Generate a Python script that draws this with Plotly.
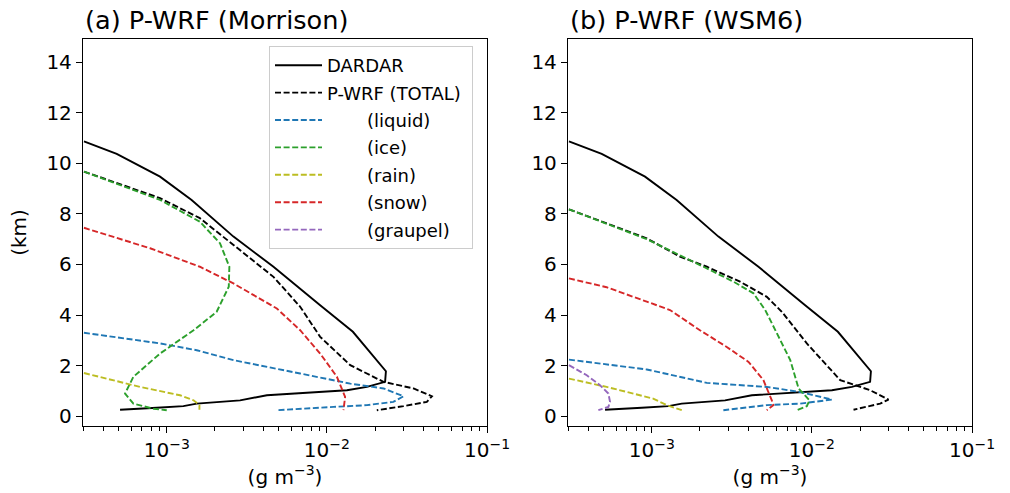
import plotly.graph_objects as go

# ---------------- data (g m^-3 vs km) ----------------
dardar_x = [3.04e-4, 4.87e-4, 9.08e-4, 1.43e-3, 2.61e-3, 4.64e-3, 9.08e-3, 1.454e-2, 2.337e-2, 2.31e-2,
            1.778e-2, 1.334e-2, 4.22e-3, 2.87e-3, 1.54e-3, 1.27e-3, 8.66e-4, 5.11e-4]
dardar_y = [10.86, 10.37, 9.47, 8.55, 7.10, 5.91, 4.39, 3.34, 1.78, 1.36,
            1.16, 1.03, 0.83, 0.63, 0.50, 0.40, 0.34, 0.26]

# (a) Morrison
mor_total_x = [3.04e-4, 9.08e-4, 1.61e-3, 2.61e-3, 4.64e-3, 6.81e-3, 9.08e-3, 1.399e-2, 2.258e-2, 3.48e-2, 4.53e-2, 4.21e-2, 3.01e-2, 2.05e-2]
mor_total_y = [9.67, 8.62, 7.83, 6.77, 5.51, 4.33, 3.14, 2.02, 1.36, 1.10, 0.79, 0.57, 0.40, 0.24]
mor_liquid_x = [3.04e-4, 9.08e-4, 1.54e-3, 2.61e-3, 6.81e-3, 1.40e-2, 2.26e-2, 3.01e-2, 2.60e-2, 1.78e-2, 1.101e-2, 4.87e-3]
mor_liquid_y = [3.30, 2.88, 2.61, 2.22, 1.69, 1.29, 1.10, 0.79, 0.57, 0.44, 0.37, 0.24]
mor_ice_x = [3.04e-4, 9.08e-4, 1.61e-3, 2.15e-3, 2.46e-3, 2.44e-3, 2.05e-3, 1.47e-3, 9.08e-4, 6.19e-4, 5.49e-4, 6.19e-4, 8.25e-4, 1.0e-3]
mor_ice_y = [9.67, 8.55, 7.69, 6.84, 5.91, 5.12, 4.13, 3.40, 2.48, 1.56, 0.90, 0.50, 0.30, 0.24]
mor_rain_x = [3.04e-4, 6.81e-4, 1.21e-3, 1.47e-3, 1.60e-3, 1.60e-3]
mor_rain_y = [1.71, 1.16, 0.83, 0.63, 0.44, 0.26]
mor_snow_x = [3.04e-4, 7.87e-4, 1.61e-3, 2.61e-3, 4.87e-3, 6.81e-3, 9.08e-3, 1.155e-2, 1.30e-2, 1.27e-2]
mor_snow_y = [7.45, 6.64, 5.91, 5.25, 4.26, 3.40, 2.48, 1.56, 0.77, 0.24]

# (b) WSM6
wsm_total_x = [3.04e-4, 9.31e-4, 1.50e-3, 2.21e-3, 3.56e-3, 5.23e-3, 6.49e-3, 9.3e-3, 1.503e-2, 2.31e-2, 3.01e-2, 2.67e-2, 1.82e-2]
wsm_total_y = [8.18, 7.03, 6.31, 5.91, 5.32, 4.72, 4.13, 2.88, 1.43, 1.03, 0.66, 0.50, 0.26]
wsm_liquid_x = [3.04e-4, 9.31e-4, 2.21e-3, 5.23e-3, 8.45e-3, 1.334e-2, 8.45e-3, 5.23e-3, 2.8e-3]
wsm_liquid_y = [2.24, 1.85, 1.32, 1.16, 0.96, 0.66, 0.50, 0.44, 0.24]
wsm_ice_x = [3.04e-4, 9.31e-4, 2.15e-3, 3.24e-3, 4.32e-3, 5.11e-3, 5.5e-3, 7.33e-3, 8.26e-3, 9.66e-3, 9.3e-3, 8.06e-3]
wsm_ice_y = [8.18, 7.00, 5.88, 5.32, 4.86, 4.20, 3.80, 2.22, 1.10, 0.63, 0.40, 0.24]
wsm_rain_x = [3.04e-4, 5.23e-4, 1.02e-3, 1.24e-3, 1.54e-3]
wsm_rain_y = [1.49, 1.16, 0.70, 0.44, 0.24]
wsm_snow_x = [3.04e-4, 5.23e-4, 9.31e-4, 1.30e-3, 2.0e-3, 2.94e-3, 4.02e-3, 4.98e-3, 5.62e-3, 5.75e-3, 5.23e-3]
wsm_snow_y = [5.45, 5.10, 4.53, 4.20, 3.40, 2.74, 2.15, 1.43, 0.63, 0.44, 0.24]
wsm_graupel_x = [3.04e-4, 3.93e-4, 4.75e-4, 5.36e-4, 5.49e-4, 5.36e-4, 4.64e-4]
wsm_graupel_y = [2.02, 1.62, 1.23, 0.90, 0.57, 0.37, 0.24]

titles = ["(a) P-WRF (Morrison)", "(b) P-WRF (WSM6)"]
y_ticks = [0, 2, 4, 6, 8, 10, 12, 14]
x_major = [1e-3, 1e-2, 1e-1]
x_major_text = ["10<sup>−3</sup>", "10<sup>−2</sup>", "10<sup>−1</sup>"]
x_minor = [m * 10.0 ** e for e in (-4, -3, -2) for m in range(2, 10)]

# ---------------- styles ----------------
BLACK = "black"
BLUE = "#1f77b4"
GREEN = "#2ca02c"
OLIVE = "#bcbd22"
RED = "#d62728"
PURPLE = "#9467bd"
DASH = "6px,2.6px"
LW = 1.9
IND = "\u00a0" * 7
FONT = "DejaVu Sans"
XR = [-3.523, -1.0]

fig = go.Figure()


def add(x, y, color, name, axis, dash=DASH, show=False, rank=0):
    fig.add_trace(go.Scatter(
        x=x, y=y, mode="lines", name=name,
        line=dict(color=color, width=LW, dash=dash),
        xaxis="x" if axis == 1 else "x2", yaxis="y" if axis == 1 else "y2",
        showlegend=show, legendrank=rank, legendgroup=name,
    ))


# panel a
add(dardar_x, dardar_y, BLACK, "DARDAR", 1, dash="solid", show=True, rank=1)
add(mor_total_x, mor_total_y, BLACK, "P-WRF (TOTAL)\u00a0", 1, show=True, rank=2)
add(mor_liquid_x, mor_liquid_y, BLUE, IND + "(liquid)", 1, show=True, rank=3)
add(mor_ice_x, mor_ice_y, GREEN, IND + "(ice)", 1, show=True, rank=4)
add(mor_rain_x, mor_rain_y, OLIVE, IND + "(rain)", 1, show=True, rank=5)
add(mor_snow_x, mor_snow_y, RED, IND + "(snow)", 1, show=True, rank=6)
# panel b
add(dardar_x, dardar_y, BLACK, "DARDAR", 2, dash="solid")
add(wsm_total_x, wsm_total_y, BLACK, "P-WRF (TOTAL)\u00a0", 2)
add(wsm_liquid_x, wsm_liquid_y, BLUE, IND + "(liquid)", 2)
add(wsm_ice_x, wsm_ice_y, GREEN, IND + "(ice)", 2)
add(wsm_rain_x, wsm_rain_y, OLIVE, IND + "(rain)", 2)
add(wsm_snow_x, wsm_snow_y, RED, IND + "(snow)", 2)
add(wsm_graupel_x, wsm_graupel_y, PURPLE, IND + "(graupel)", 2, show=True, rank=7)

W, H = 1010, 493
dom1 = [83 / W, 487 / W]
dom2 = [568 / W, 972 / W]

xcommon = dict(
    type="log", range=XR, tickmode="array", tickvals=x_major, ticktext=x_major_text,
    showline=True, linecolor="black", linewidth=1.3, mirror=True,
    ticks="outside", ticklen=6, tickwidth=1.3, tickcolor="black",
    tickfont=dict(size=20, color="black", family=FONT),
    showgrid=False, zeroline=False, automargin=False,
    minor=dict(tickmode="array", tickvals=x_minor, ticks="outside", ticklen=3.5,
               tickwidth=1, tickcolor="black", showgrid=False),
    title=dict(text="(g m<sup>−3</sup>)", font=dict(size=20, color="black", family=FONT), standoff=8),
)
ycommon = dict(
    range=[-0.384, 14.91], tickvals=y_ticks,
    showline=True, linecolor="black", linewidth=1.3, mirror=True,
    ticks="outside", ticklen=6, tickwidth=1.3, tickcolor="black",
    tickfont=dict(size=20, color="black", family=FONT),
    showgrid=False, zeroline=False, automargin=False,
)

fig.update_layout(
    width=W, height=H,
    margin=dict(l=0, r=0, t=39, b=67, autoexpand=False),
    paper_bgcolor="white", plot_bgcolor="white",
    font=dict(family=FONT, color="black"),
    xaxis=dict(domain=dom1, anchor="y", **xcommon),
    xaxis2=dict(domain=dom2, anchor="y2", **xcommon),
    yaxis=dict(domain=[0, 1], anchor="x", title=dict(text="(km)", font=dict(size=20, color="black", family=FONT), standoff=14), **ycommon),
    yaxis2=dict(domain=[0, 1], anchor="x2", **ycommon),
    legend=dict(
        x=269 / W, y=(426 - 46) / 387, xanchor="left", yanchor="top",
        bgcolor="rgba(255,255,255,0.8)", bordercolor="#cccccc", borderwidth=1,
        font=dict(size=18, color="black", family=FONT),
        traceorder="grouped", tracegroupgap=1, itemwidth=47,
    ),
    annotations=[
        dict(text=titles[0], xref="paper", yref="paper", x=dom1[0], y=1, xanchor="left", yanchor="bottom",
             yshift=2, showarrow=False, font=dict(size=25.6, color="black", family=FONT)),
        dict(text=titles[1], xref="paper", yref="paper", x=dom2[0], y=1, xanchor="left", yanchor="bottom",
             yshift=2, showarrow=False, font=dict(size=25.6, color="black", family=FONT)),
    ],
)

fig.write_html("out.html")
